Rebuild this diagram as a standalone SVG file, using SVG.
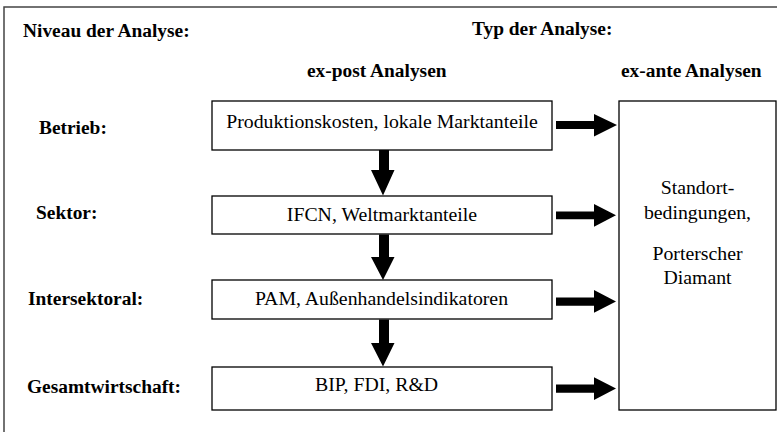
<svg xmlns="http://www.w3.org/2000/svg" width="777" height="432" viewBox="0 0 777 432">
<style>
  .frame { fill: none; stroke: #444; stroke-width: 1.5; }
  .box { fill: #fff; stroke: #000; stroke-width: 1.3; }
  text { font-family: 'Liberation Serif', 'Times New Roman', serif; fill: #000; }
  .b { font-weight: bold; font-size: 19.4px; }
  .r { font-weight: normal; font-size: 19.8px; }
  .arrow { fill: #000; stroke: none; }
</style>
<rect width="777" height="432" fill="#fff"/>
<rect class="frame" x="4" y="7" width="800" height="500"/>

<g id="headers">
  <text class="b" x="23" y="37">Niveau der Analyse:</text>
  <text class="b" x="472" y="34.5">Typ der Analyse:</text>
  <text class="b" x="307" y="77">ex-post Analysen</text>
  <text class="b" x="621" y="77">ex-ante Analysen</text>
</g>

<g id="levels">
  <text class="b" x="39" y="134">Betrieb:</text>
  <text class="b" x="36" y="218.5">Sektor:</text>
  <text class="b" x="28" y="305">Intersektoral:</text>
  <text class="b" x="27" y="392.5">Gesamtwirtschaft:</text>
</g>

<g id="node-betrieb">
  <rect class="box" x="212" y="101" width="340" height="49"/>
  <text class="r" x="382" y="128" text-anchor="middle">Produktionskosten, lokale Marktanteile</text>
</g>
<g id="node-sektor">
  <rect class="box" x="212" y="196" width="340" height="38"/>
  <text class="r" x="382" y="220.5" text-anchor="middle">IFCN, Weltmarktanteile</text>
</g>
<g id="node-intersektoral">
  <rect class="box" x="212" y="280" width="340" height="39"/>
  <text class="r" x="381.5" y="305" text-anchor="middle">PAM, Außenhandelsindikatoren</text>
</g>
<g id="node-gesamt">
  <rect class="box" x="212" y="367" width="340" height="43"/>
  <text class="r" x="376.5" y="391" text-anchor="middle">BIP, FDI, R&amp;D</text>
</g>
<g id="node-exante">
  <rect class="box" x="619" y="101" width="157" height="309"/>
  <text class="r" x="697.5" y="194" text-anchor="middle">Standort-</text>
  <text class="r" x="697.5" y="218.5" text-anchor="middle">bedingungen,</text>
  <text class="r" x="697.5" y="260" text-anchor="middle">Porterscher</text>
  <text class="r" x="697.5" y="284" text-anchor="middle">Diamant</text>
</g>

<g id="connectors">
  <polygon class="arrow" points="379,150 389,150 389,170 394.5,170 383,195.5 371,170 379,170"/>
  <polygon class="arrow" points="379,234.5 389,234.5 389,257 394.5,257 383,280 371,257 379,257"/>
  <polygon class="arrow" points="379,319.5 389,319.5 389,343 394.5,343 383,366.5 371,343 379,343"/>
  <polygon class="arrow" points="556,121 594,121 594,114 617,125 594,136.5 594,129 556,129"/>
  <polygon class="arrow" points="556,211.5 594,211.5 594,204 616,215.3 594,226.7 594,219.3 556,219.3"/>
  <polygon class="arrow" points="556,297.5 594,297.5 594,290 616,301.5 594,312.7 594,305.7 556,305.7"/>
  <polygon class="arrow" points="556,384.5 594,384.5 594,377.3 616,388.5 594,400 594,392.7 556,392.7"/>
</g>
</svg>
